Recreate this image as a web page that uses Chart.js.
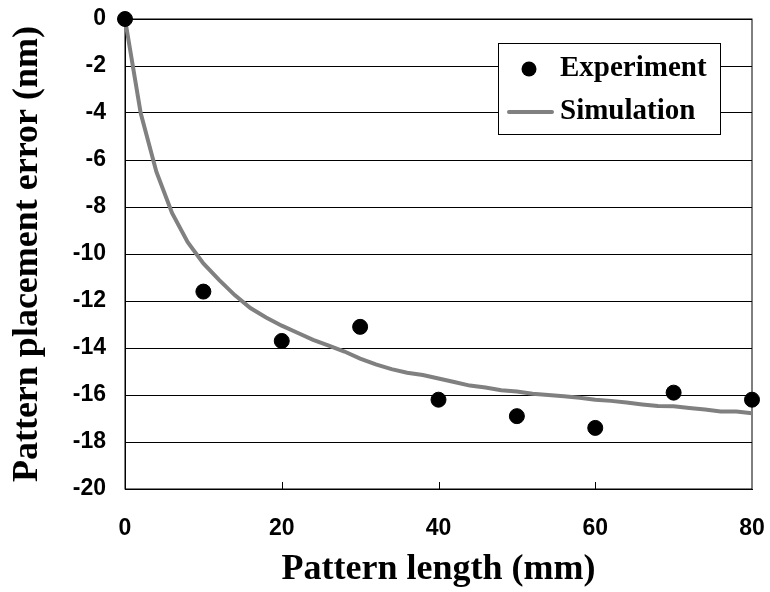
<!DOCTYPE html>
<html>
<head>
<meta charset="utf-8">
<script src="https://cdn.jsdelivr.net/npm/chart.js@4"></script>
<style>
  html, body { margin: 0; padding: 0; background: #fff; }
  #wrap { width: 770px; height: 592px; }
</style>
</head>
<body>
<div id="wrap"><canvas id="chart" width="770" height="592"></canvas></div>
<script>
// Experiment (measured) points
const expX = [0, 10, 20, 30, 40, 50, 60, 70, 80];
const expY = [0, -11.6, -13.7, -13.1, -16.2, -16.9, -17.4, -15.9, -16.2];

// Simulation curve, read every 2 mm
const simX = [0, 2, 4, 6, 8, 10, 12, 14, 16, 18, 20, 22, 24, 26, 28, 30, 32, 34, 36, 38, 40,
              42, 44, 46, 48, 50, 52, 54, 56, 58, 60, 62, 64, 66, 68, 70, 72, 74, 76, 78, 80];
const simY = [0, -4.0, -6.5, -8.25, -9.5, -10.4, -11.1, -11.75, -12.3, -12.7, -13.05,
              -13.35, -13.65, -13.9, -14.15, -14.45, -14.7, -14.9, -15.05, -15.15, -15.3,
              -15.45, -15.6, -15.68, -15.8, -15.85, -15.95, -16.0, -16.05, -16.12, -16.2,
              -16.25, -16.32, -16.4, -16.47, -16.48, -16.55, -16.62, -16.7, -16.7, -16.78];

const xTicks = [0, 20, 40, 60, 80];
const yTicks = [0, -2, -4, -6, -8, -10, -12, -14, -16, -18, -20];

const tickFont = { family: 'Liberation Sans', size: 23, weight: 'bold', lineHeight: 1.2 };
const titleFont = { family: 'Liberation Serif', size: 36, weight: 'bold', lineHeight: 1 };

// box round the plot area plus the small inward ticks on the x axis
const plotBox = {
    id: 'plotBox',
    beforeDatasetsDraw(chart) {
        const { ctx, chartArea: a, scales } = chart;
        ctx.save();
        ctx.strokeStyle = '#000';
        ctx.lineWidth = 1;
        ctx.strokeRect(a.left, a.top, a.right - a.left, a.bottom - a.top);
        ctx.beginPath();
        xTicks.slice(1, -1).forEach(v => {
            const px = Math.round(scales.x.getPixelForValue(v)) + 0.5;
            ctx.moveTo(px, a.bottom);
            ctx.lineTo(px, a.bottom - 7);
        });
        ctx.stroke();
        ctx.restore();
    }
};

// legend box inside the plot, top right
const boxLegend = {
    id: 'boxLegend',
    afterDraw(chart) {
        const { ctx, chartArea: a } = chart;
        const ds = chart.data.datasets;
        const left = a.left + 373, top = a.top + 24, w = 222, h = 91;
        ctx.save();
        ctx.fillStyle = '#fff';
        ctx.fillRect(left, top, w, h);
        ctx.strokeStyle = '#000';
        ctx.lineWidth = 1;
        ctx.strokeRect(left + 0.5, top + 0.5, w, h);

        const rowY = [top + 26, top + 69];
        // Experiment marker
        ctx.fillStyle = ds[0].backgroundColor;
        ctx.beginPath();
        ctx.arc(left + 31, rowY[0], ds[0].pointRadius, 0, Math.PI * 2);
        ctx.fill();
        // Simulation line sample
        ctx.strokeStyle = ds[1].borderColor;
        ctx.lineWidth = ds[1].borderWidth;
        ctx.lineCap = 'round';
        ctx.beginPath();
        ctx.moveTo(left + 11, rowY[1]);
        ctx.lineTo(left + 54, rowY[1]);
        ctx.stroke();

        ctx.fillStyle = '#000';
        ctx.font = 'bold 29px "Liberation Serif"';
        ctx.textBaseline = 'middle';
        ctx.fillText(ds[0].label, left + 62, rowY[0]);
        ctx.fillText(ds[1].label, left + 62, rowY[1]);
        ctx.restore();
    }
};

new Chart(document.getElementById('chart'), {
    type: 'scatter',
    data: {
        datasets: [
            {
                label: 'Experiment',
                data: expX.map((x, i) => ({ x: x, y: expY[i] })),
                backgroundColor: '#000',
                borderColor: '#000',
                pointRadius: 7.5,
                pointHoverRadius: 7.5,
                showLine: false,
                clip: false
            },
            {
                label: 'Simulation',
                data: simX.map((x, i) => ({ x: x, y: simY[i] })),
                borderColor: '#808080',
                backgroundColor: '#808080',
                borderWidth: 4,
                pointRadius: 0,
                showLine: true,
                tension: 0,
                clip: false
            }
        ]
    },
    options: {
        responsive: false,
        animation: false,
        devicePixelRatio: 1,
        layout: { padding: { top: 19, right: 18, left: 0, bottom: 0 } },
        plugins: {
            legend: { display: false },
            tooltip: { enabled: false }
        },
        scales: {
            x: {
                type: 'linear',
                min: 0,
                max: 80,
                afterFit: s => { s.height = 103; s.paddingLeft = 0; s.paddingRight = 0; },
                afterBuildTicks: s => { s.ticks = xTicks.map(v => ({ value: v })); },
                grid: { display: false, drawTicks: false },
                border: { display: true, color: '#000', width: 1 },
                ticks: { color: '#000', font: tickFont, padding: 26, maxRotation: 0 },
                title: {
                    display: true,
                    text: 'Pattern length (mm)',
                    color: '#000',
                    font: titleFont,
                    padding: { top: 0, bottom: 4 }
                }
            },
            y: {
                type: 'linear',
                min: -20,
                max: 0,
                afterFit: s => { s.width = 125; s.paddingTop = 0; s.paddingBottom = 0; },
                afterBuildTicks: s => { s.ticks = yTicks.map(v => ({ value: v })); },
                grid: { color: '#000', lineWidth: 1, drawTicks: false },
                border: { display: true, color: '#000', width: 1 },
                ticks: { color: '#000', font: tickFont, padding: 19 },
                title: {
                    display: true,
                    text: 'Pattern placement error (nm)',
                    color: '#000',
                    font: titleFont,
                    padding: { top: 10, bottom: 0 }
                }
            }
        }
    },
    plugins: [plotBox, boxLegend]
});
</script>
</body>
</html>
